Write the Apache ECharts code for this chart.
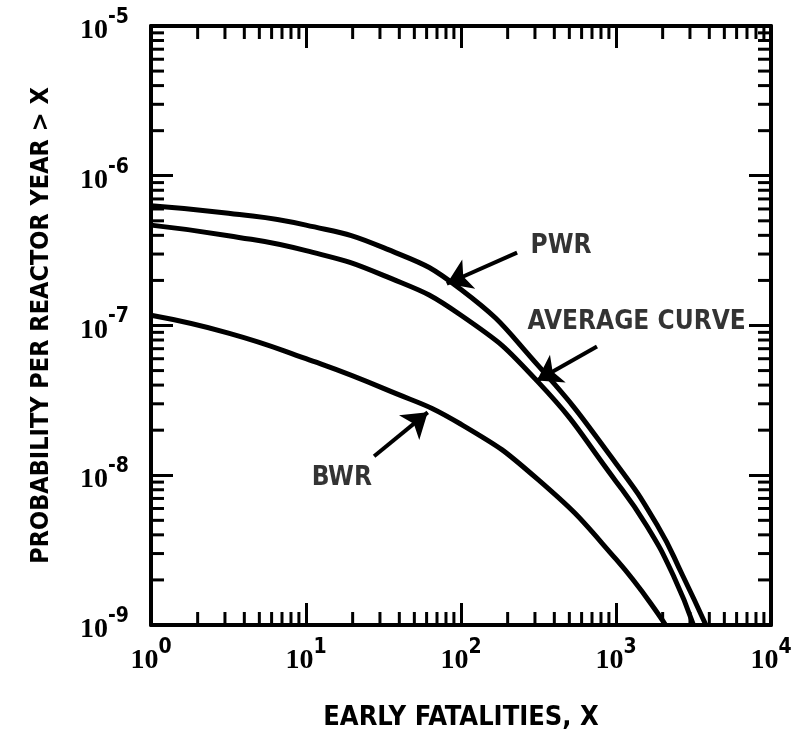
<!DOCTYPE html>
<html>
<head>
<meta charset="utf-8">
<script src="https://cdn.jsdelivr.net/npm/echarts@6/dist/echarts.min.js"></script>
<style>
  html, body { margin: 0; padding: 0; background: #fff; }
  #chart { width: 800px; height: 746px; }
</style>
</head>
<body>
<div id="chart"></div>
<script>
// axis ranges
const X_MIN = 1
const X_MAX = 1e4
const Y_MIN = 1e-9
const Y_MAX = 1e-5

// curves
const pwrX = [1, 3.16, 10, 31.6, 100, 316, 1000, 1862, 2692, 3802]
const pwrY = [6.31e-7, 5.62e-7, 4.68e-7, 3.31e-7, 1.74e-7, 5.37e-8, 1.2e-8, 4.57e-9, 2.14e-9, 1e-9]

const avgX = [1, 3.16, 10, 31.6, 100, 316, 1000, 1585, 2344, 3162]
const avgY = [4.68e-7, 3.98e-7, 3.16e-7, 2.16e-7, 1.17e-7, 4.17e-8, 9.1e-9, 4.57e-9, 2.14e-9, 1e-9]

const bwrX = [1, 3.16, 10, 31.6, 100, 316, 1000, 2089]
const bwrY = [1.17e-7, 8.9e-8, 6.0e-8, 3.8e-8, 2.19e-8, 9.3e-9, 2.75e-9, 1e-9]

// annotations: label anchor, arrow tail -> arrow tip
const labelNames = ['PWR', 'AVERAGE CURVE', 'BWR']
const labelPos = [[279, 3.36e-7], [267, 1.05e-7], [10.8, 9.55e-9]]
const arrowTail = [[230, 3.07e-7], [754, 7.24e-8], [27.5, 1.34e-8]]
const arrowTip = [[81, 1.9e-7], [309, 4.3e-8], [61, 2.63e-8]]

// minor tick values
const minorMantissas = [2, 3, 4, 5, 6, 7, 8, 9]
const xDecades = [1, 10, 100, 1000]
const yDecades = [1e-9, 1e-8, 1e-7, 1e-6]

const pairs = (xs, ys) => xs.map((x, i) => [x, ys[i]])

const xMinor = []
xDecades.forEach(d => minorMantissas.forEach(m => xMinor.push([m * d, Y_MIN])))
const yMinor = []
yDecades.forEach(d => minorMantissas.forEach(m => yMinor.push([X_MIN, m * d])))

const MINOR_LEN = 13
const tickStyle = { stroke: '#000', lineWidth: 3 }

function xMinorTick(params, api) {
  const x = api.value(0)
  const b = api.coord([x, Y_MIN])
  const t = api.coord([x, Y_MAX])
  return {
    type: 'group',
    children: [
      { type: 'line', shape: { x1: b[0], y1: b[1], x2: b[0], y2: b[1] - MINOR_LEN }, style: tickStyle },
      { type: 'line', shape: { x1: t[0], y1: t[1], x2: t[0], y2: t[1] + MINOR_LEN }, style: tickStyle }
    ]
  }
}

function yMinorTick(params, api) {
  const y = api.value(1)
  const l = api.coord([X_MIN, y])
  const r = api.coord([X_MAX, y])
  return {
    type: 'group',
    children: [
      { type: 'line', shape: { x1: l[0], y1: l[1], x2: l[0] + MINOR_LEN, y2: l[1] }, style: tickStyle },
      { type: 'line', shape: { x1: r[0], y1: r[1], x2: r[0] - MINOR_LEN, y2: r[1] }, style: tickStyle }
    ]
  }
}

const powLabel = v => '{b|10}{s|' + Math.round(Math.log10(v)) + '}'
const powRich = {
  b: { fontFamily: 'Liberation Serif', fontWeight: 'bold', fontSize: 28, color: '#000', lineHeight: 38, verticalAlign: 'bottom' },
  s: { fontFamily: 'DejaVu Sans Condensed', fontWeight: 'bold', fontSize: 21, color: '#000', lineHeight: 38, verticalAlign: 'top' }
}

const axisLine = { show: true, lineStyle: { color: '#000', width: 4 } }
const majorTick = { show: true, inside: true, length: 22, lineStyle: { color: '#000', width: 3 } }
const titleFont = { fontFamily: 'DejaVu Sans Condensed', fontWeight: 'bold', color: '#000' }

const curve = (name, data) => ({
  name,
  type: 'line',
  data,
  smooth: 0.5,
  symbol: 'none',
  lineStyle: { color: '#000', width: 5 },
  xAxisIndex: 0,
  yAxisIndex: 0,
  z: 3
})

const chart = echarts.init(document.getElementById('chart'))
chart.setOption({
  animation: false,
  backgroundColor: '#fff',
  grid: { left: 151, right: 29, top: 26, bottom: 121 },
  xAxis: [
    {
      type: 'log', logBase: 10, min: X_MIN, max: X_MAX, position: 'bottom',
      axisLine, axisTick: majorTick, splitLine: { show: false },
      axisLabel: { formatter: powLabel, rich: powRich, margin: 12 },
      name: 'EARLY FATALITIES, X', nameLocation: 'middle', nameGap: 79,
      nameTextStyle: Object.assign({ fontSize: 27 }, titleFont)
    },
    {
      type: 'log', logBase: 10, min: X_MIN, max: X_MAX, position: 'top',
      axisLine, axisTick: majorTick, splitLine: { show: false },
      axisLabel: { show: false }
    }
  ],
  yAxis: [
    {
      type: 'log', logBase: 10, min: Y_MIN, max: Y_MAX, position: 'left',
      axisLine, axisTick: majorTick, splitLine: { show: false },
      axisLabel: { formatter: powLabel, rich: powRich, margin: 22 },
      name: 'PROBABILITY PER REACTOR YEAR > X', nameLocation: 'middle', nameGap: 97,
      nameTextStyle: Object.assign({ fontSize: 25 }, titleFont)
    },
    {
      type: 'log', logBase: 10, min: Y_MIN, max: Y_MAX, position: 'right',
      axisLine, axisTick: majorTick, splitLine: { show: false },
      axisLabel: { show: false }
    }
  ],
  series: [
    curve('PWR', pairs(pwrX, pwrY)),
    curve('AVERAGE CURVE', pairs(avgX, avgY)),
    curve('BWR', pairs(bwrX, bwrY)),
    {
      type: 'custom', renderItem: xMinorTick, data: xMinor, silent: true,
      xAxisIndex: 0, yAxisIndex: 0, clip: false
    },
    {
      type: 'custom', renderItem: yMinorTick, data: yMinor, silent: true,
      xAxisIndex: 0, yAxisIndex: 0, clip: false
    },
    {
      type: 'lines', coordinateSystem: 'cartesian2d', xAxisIndex: 0, yAxisIndex: 0,
      symbol: ['none', 'arrow'], symbolSize: 24,
      lineStyle: { color: '#000', width: 4, opacity: 1 },
      data: arrowTail.map((t, i) => ({ coords: [t, arrowTip[i]] })),
      silent: true
    },
    {
      type: 'scatter', xAxisIndex: 0, yAxisIndex: 0, symbolSize: 1,
      itemStyle: { color: 'rgba(0,0,0,0)' },
      label: {
        show: true, position: 'right', distance: 0, formatter: '{b}',
        fontFamily: 'DejaVu Sans Condensed', fontWeight: 'bold', fontSize: 26, color: '#000'
      },
      data: labelNames.map((n, i) => ({ name: n, value: labelPos[i] })),
      silent: true
    }
  ]
})
</script>
</body>
</html>
